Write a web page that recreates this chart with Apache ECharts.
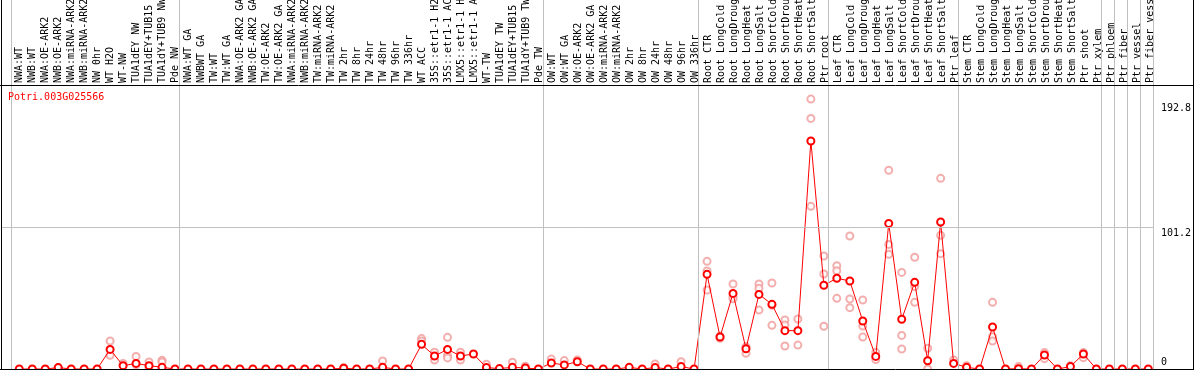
<!DOCTYPE html>
<html>
<head>
<meta charset="utf-8">
<script src="https://cdn.jsdelivr.net/npm/echarts@6/dist/echarts.min.js"></script>
<style>
html,body{margin:0;padding:0;background:#fff;}
#chart{width:1194px;height:370px;}
</style>
</head>
<body>
<div id="chart"></div>
<script>
// ---------------- data ----------------
const geneName = "Potri.003G025566";

const categories = [
  "NWA:WT","NWB:WT","NWA:OE-ARK2","NWB:OE-ARK2","NWA:miRNA-ARK2","NWB:miRNA-ARK2","NW 0hr","WT H2O","WT-NW","TUA1dEY NW","TUA1dEY+TUB15 NW","TUA1dY+TUB9 NW","Pde NW",
  "NWA:WT GA","NWBWT GA","TW:WT","TW:WT GA","NWA:OE-ARK2 GA","NWB:OE-ARK2 GA","TW:OE-ARK2","TW:OE-ARK2 GA","NWA:miRNA-ARK2 GA","NWB:miRNA-ARK2 GA","TW:miRNA-ARK2","TW:miRNA-ARK2 GA","TW 2hr","TW 8hr","TW 24hr","TW 48hr","TW 96hr","TW 336hr","WT ACC","35S::etr1-1 H2O","35S::etr1-1 ACC","LMX5::etr1-1 H2O","LMX5::etr1-1 ACC","WT-TW","TUA1dEY TW","TUA1dEY+TUB15 TW","TUA1dY+TUB9 TW","Pde TW",
  "OW:WT","OW:WT GA","OW:OE-ARK2","OW:OE-ARK2 GA","OW:miRNA-ARK2","OW:miRNA-ARK2 GA","OW 2hr","OW 8hr","OW 24hr","OW 48hr","OW 96hr","OW 336hr",
  "Root CTR","Root LongCold","Root LongDrought","Root LongHeat","Root LongSalt","Root ShortCold","Root ShortDrought","Root ShortHeat","Root ShortSalt","Ptr root",
  "Leaf CTR","Leaf LongCold","Leaf LongDrought","Leaf LongHeat","Leaf LongSalt","Leaf ShortCold","Leaf ShortDrought","Leaf ShortHeat","Leaf ShortSalt","Ptr leaf",
  "Stem CTR","Stem LongCold","Stem LongDrought","Stem LongHeat","Stem LongSalt","Stem ShortCold","Stem ShortDrought","Stem ShortHeat","Stem ShortSalt","Ptr shoot","Ptr xylem",
  "Ptr phloem","Ptr fiber","Ptr vessel","Ptr fiber vessel"
];

// index of first category of each group (last entry = total count)
const groupStarts = [0, 13, 41, 53, 63, 73, 84, 85, 86, 87, 88];

const meanValues = [
  0,0,0,1,0,0,0,14,2.4,4,2.4,1.2,0,
  0,0,0,0,0,0,0,0,0,0,0,0,0.5,0,0,1.2,0,0,17.6,9.3,14,9.3,10.7,1,0.3,1.2,0.7,0,
  4.3,2.9,5.2,0,0,0,1.2,0,1,0,1.7,0,
  67.6,22.9,54,14.5,53.3,46.2,27.4,27.4,162.9,59.8,
  64.8,62.9,34.3,9,104,35.5,61.9,5.9,105,4,
  1.2,0,30,0,0.2,0,10,0,1.7,10.7,0,
  0,0,0,0
];

const replicateValues = [
  [],[],[],[1],[],[],[],[20,9.8],[4],[9,3],[5,1],[6.2,5],[],
  [],[],[],[],[],[],[],[],[],[],[],[],[1],[],[],[5.7],[],[],[21.7,20],[12,6.4],[22.6,9.8,7.9],[12,6.4],[],[3.4],[],[4.8],[2],[],
  [7.1],[6],[6.4],[],[],[],[],[],[3.6],[],[5.2],[],
  [76.9,70,56.4],[23.5,22],[60.7,51.7,50.2],[11.2,16],[60.7,57.6,42.1],[61.4,31.2,45.5],[35,31.4,16.4],[35.7,17.1],[192.8,179,116.2],[80.7,67.9,30.5],
  [73.8,70.2,50.5],[95,50,43.8],[49.3,30.7,22.9],[11.9,6.7],[142,89,82],[69,24,14.3],[79.8,58.8,47.6],[14.8,0],[136.2,95.5,82.4],[6.4],
  [2.4],[],[47.6,23,20],[],[1.7],[],[11.7,7.4],[],[2.4],[11.7,8.1],[],
  [],[],[],[]
];

const yTickValues = [0, 101.2, 192.8];
const yGridValues = [101.2];

// ---------------- layout constants ----------------
const FONT = "'DejaVu Sans Mono', 'Liberation Mono', monospace";
const bandPx = 13;
const firstCenterPx = 19.3;
const plotLeftPx = 1, plotRightPx = 1193;
const xMin = (plotLeftPx - firstCenterPx) / bandPx;
const xMax = (plotRightPx - firstCenterPx) / bandPx;
const sepOffset = -0.64;
const yMax = 263.6;

const meanData = meanValues.map((v, i) => [i, v]);
const repData = [];
replicateValues.forEach((arr, i) => arr.forEach(v => repData.push([i, v])));

const sepLines = groupStarts.map(b => ({ xAxis: b + sepOffset }));
const gridLines = yGridValues.map(v => [
  { coord: [xMin, v] },
  { coord: [groupStarts[groupStarts.length - 1] + sepOffset, v] }
]);

const chart = echarts.init(document.getElementById('chart'), null, { renderer: 'canvas' });

const option = {
  animation: false,
  backgroundColor: '#ffffff',
  title: {
    text: geneName,
    left: 8, top: 92, padding: 0,
    textStyle: { color: '#ff0000', fontFamily: FONT, fontSize: 10, fontWeight: 'normal' }
  },
  grid: [
    { left: plotLeftPx, right: 1194 - plotRightPx, top: 0, bottom: 1 },
    { left: firstCenterPx - bandPx / 2, right: 1194 - (firstCenterPx - bandPx / 2 + bandPx * categories.length), top: 0, height: 85 }
  ],
  xAxis: [
    { type: 'value', gridIndex: 0, min: xMin, max: xMax, show: false },
    {
      type: 'category', gridIndex: 1, data: categories, position: 'bottom', boundaryGap: true,
      axisLine: { show: false }, axisTick: { show: false }, splitLine: { show: false },
      axisLabel: { interval: 0, rotate: 90, inside: true, margin: 2, fontFamily: FONT, fontSize: 10, color: '#000000' }
    }
  ],
  yAxis: [
    {
      type: 'value', gridIndex: 0, min: 0, max: yMax, position: 'right',
      axisLine: { show: false }, axisTick: { show: false }, splitLine: { show: false },
      axisLabel: {
        customValues: yTickValues,
        inside: true, align: 'left', margin: 30,
        fontFamily: FONT, fontSize: 10, color: '#000000',
        formatter: function (v) {
          if (v === 0) return '{b|' + v + '}';
          if (v === yTickValues[yTickValues.length - 1]) return '{t|' + v + '}';
          return '{m|' + v + '}';
        },
        rich: {
          b: { fontFamily: FONT, fontSize: 10, color: '#000', padding: [0, 0, 14, 0] },
          m: { fontFamily: FONT, fontSize: 10, color: '#000', padding: [12, 0, 0, 0] },
          t: { fontFamily: FONT, fontSize: 10, color: '#000', padding: [19, 0, 0, 0] }
        }
      }
    },
    { type: 'value', gridIndex: 1, show: false }
  ],
  series: [
    {
      type: 'line', name: 'guides', xAxisIndex: 0, yAxisIndex: 0, data: [], silent: true,
      markLine: {
        silent: true, symbol: ['none', 'none'], label: { show: false },
        lineStyle: { color: '#c0c0c0', width: 1, type: 'solid' },
        data: sepLines.concat(gridLines)
      },
      z: 1
    },
    {
      type: 'scatter', name: 'replicates', xAxisIndex: 0, yAxisIndex: 0, data: repData,
      symbol: 'emptyCircle', symbolSize: 7,
      itemStyle: { color: '#f09a9a', borderColor: '#f09a9a', borderWidth: 1 },
      z: 3
    },
    {
      type: 'line', name: 'mean', xAxisIndex: 0, yAxisIndex: 0, data: meanData,
      symbol: 'emptyCircle', symbolSize: 7, showAllSymbol: true,
      lineStyle: { color: '#ff0000', width: 1 },
      itemStyle: { color: '#ff0000', borderColor: '#ff0000', borderWidth: 1.4 },
      z: 4
    }
  ],
  graphic: [
    { type: 'line', z: 100, shape: { x1: 1.5, y1: 0, x2: 1.5, y2: 370 }, style: { stroke: '#000', lineWidth: 1 } },
    { type: 'line', z: 100, shape: { x1: 1193.5, y1: 0, x2: 1193.5, y2: 370 }, style: { stroke: '#000', lineWidth: 1 } },
    { type: 'line', z: 100, shape: { x1: 0, y1: 85.5, x2: 1194, y2: 85.5 }, style: { stroke: '#000', lineWidth: 1 } },
    { type: 'line', z: 100, shape: { x1: 0, y1: 369.5, x2: 1194, y2: 369.5 }, style: { stroke: '#000', lineWidth: 1 } }
  ]
};
chart.setOption(option);
</script>
</body>
</html>
